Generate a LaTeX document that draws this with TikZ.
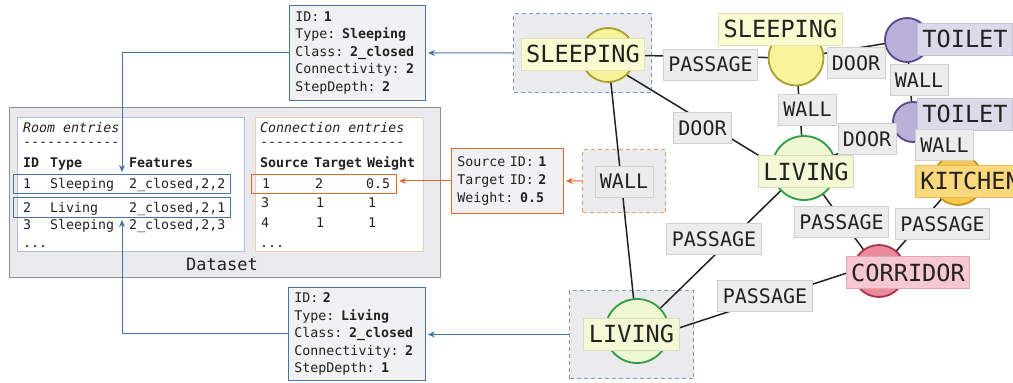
\documentclass[tikz,border=0pt]{standalone}
\usepackage{fontspec}
\setmonofont{DejaVu Sans Mono}
\usetikzlibrary{arrows.meta,calc}
\pgfdeclarelayer{bglayer}
\pgfdeclarelayer{edgelayer}
\pgfsetlayers{bglayer,edgelayer,main}
\definecolor{ink}{HTML}{222222}
\definecolor{linkblue}{HTML}{4575A8}
\definecolor{orangeL}{HTML}{E0692A}
\definecolor{infofill}{HTML}{F1F1F3}
\definecolor{dsfill}{HTML}{E9E9EE}
\definecolor{dsdraw}{HTML}{8E8E96}
\definecolor{roomdraw}{HTML}{A9C1DD}
\definecolor{conndraw}{HTML}{F2CDB0}
\definecolor{gfill}{HTML}{EBEBEE}
\definecolor{gSdraw}{HTML}{7F97B8}
\definecolor{gWdraw}{HTML}{E39A6C}
\definecolor{edgefill}{HTML}{ECECEC}
\definecolor{edgedraw}{HTML}{D0D0D0}
\definecolor{slL}{HTML}{FBFBD2}\definecolor{slLd}{HTML}{E2E2B6}
\definecolor{slC}{HTML}{F7F39B}\definecolor{slCd}{HTML}{A8A030}
\definecolor{lvL}{HTML}{F4F8D4}\definecolor{lvLd}{HTML}{D8DCBC}
\definecolor{lvC}{HTML}{EEF7D2}\definecolor{lvCd}{HTML}{2F9D45}
\definecolor{toL}{HTML}{DCD9E9}\definecolor{toLd}{HTML}{C4C0D6}
\definecolor{toC}{HTML}{B9B1D8}\definecolor{toCd}{HTML}{5E4392}
\definecolor{kiL}{HTML}{FCD87C}\definecolor{kiLd}{HTML}{E6BC5A}
\definecolor{kiC}{HTML}{F6C94C}\definecolor{kiCd}{HTML}{C9961C}
\definecolor{coL}{HTML}{F7C8D0}\definecolor{coLd}{HTML}{E2A7B3}
\definecolor{coC}{HTML}{E98B9B}\definecolor{coCd}{HTML}{A9304E}
\newcommand\tabfnt{\ttfamily\fontsize{13.3}{17.5}\selectfont}
\newcommand\roomfnt{\ttfamily\fontsize{23.6}{26}\selectfont}
\newcommand\edgefnt{\ttfamily\fontsize{20}{22}\selectfont}
\begin{document}
\begin{tikzpicture}[x=1pt,y=-1pt,
  rect/.style={rectangle, inner sep=0pt, anchor=north west},
  txt/.style={anchor=base west, inner sep=0pt, font=\tabfnt, text=ink},
  infobox/.style={rect, draw=linkblue, fill=infofill, line width=0.9pt, align=left, inner xsep=6pt, font=\tabfnt, text=ink},
  roomlbl/.style={rectangle, inner xsep=5pt, inner ysep=0pt, minimum height=32pt, font=\roomfnt, text=ink, line width=0.8pt},
  edgelbl/.style={rectangle, fill=edgefill, draw=edgedraw, inner xsep=5pt, inner ysep=0pt, minimum height=31pt, font=\edgefnt, text=ink, line width=0.8pt},
  roomc/.style={circle, inner sep=0pt, line width=1.8pt},
  conn/.style={draw=ink, line width=1.5pt},
  link/.style={draw=linkblue, line width=1pt, -{Stealth[length=7pt,width=6pt]}, shorten >=2pt},
  olink/.style={draw=orangeL, line width=1pt, -{Stealth[length=7pt,width=6pt]}, shorten >=2pt},
  grp/.style={rect, fill=gfill, line width=1pt, dash pattern=on 4pt off 3pt}
]
\useasboundingbox (0,0) rectangle (1013,383);
\begin{pgfonlayer}{bglayer}
\fill[white] (0,0) rectangle (1013,383);
\end{pgfonlayer}

% ---------------- Dataset panel
\node[rect, draw=dsdraw, fill=dsfill, line width=1pt, minimum width=431pt, minimum height=170pt] (ds) at (9,107) {};
\node[rect, draw=roomdraw, fill=white, line width=1pt, minimum width=227pt, minimum height=134pt] (rb) at (17,117) {};
\node[rect, draw=conndraw, fill=white, line width=1pt, minimum width=168pt, minimum height=134pt] (cb) at (255,117) {};
\node[anchor=base, inner sep=0pt, font=\ttfamily\fontsize{17}{20}\selectfont, text=ink] (dsl) at (222,270) {Dataset};

% room entries
\node[txt] (rt0) at (23,132) {\itshape Room entries};
\node[txt] (rt1) at (23,146) {-{}-{}-{}-{}-{}-{}-{}-{}-{}-{}-{}-};
\node[txt] (rh1) at (23,167) {\bfseries ID};
\node[txt] (rh2) at (50,167) {\bfseries Type};
\node[txt] (rh3) at (129,167) {\bfseries Features};
\node[txt] (ra1) at (23,188) {1};
\node[txt] (ra2) at (50,188) {Sleeping};
\node[txt] (ra3) at (129,188) {2\_closed,2,2};
\node[txt] (rb1) at (23,212) {2};
\node[txt] (rb2) at (50,212) {Living};
\node[txt] (rb3) at (129,212) {2\_closed,2,1};
\node[txt] (rc1) at (23,229) {3};
\node[txt] (rc2) at (50,229) {Sleeping};
\node[txt] (rc3) at (129,229) {2\_closed,2,3};
\node[txt] (rd1) at (23,247) {...};
\node[rect, draw=linkblue, line width=1pt, minimum width=217pt, minimum height=19pt] (rS) at (13,174) {};
\node[rect, draw=linkblue, line width=1pt, minimum width=217pt, minimum height=20pt] (rL) at (13,197) {};

% connection entries
\node[txt] (ct0) at (260,132) {\itshape Connection entries};
\node[txt] (ct1) at (260,146) {-{}-{}-{}-{}-{}-{}-{}-{}-{}-{}-{}-{}-{}-{}-{}-{}-{}-};
\node[txt] (ch1) at (260,167) {\bfseries Source};
\node[txt] (ch2) at (314,167) {\bfseries Target};
\node[txt] (ch3) at (367,167) {\bfseries Weight};
\node[txt] (ca1) at (262,188) {1};
\node[txt] (ca2) at (315,188) {2};
\node[txt] (ca3) at (366,188) {0.5};
\node[txt] (cb1) at (261,207) {3};
\node[txt] (cb2) at (316,207) {1};
\node[txt] (cb3) at (368,207) {1};
\node[txt] (cc1) at (261,227) {4};
\node[txt] (cc2) at (316,227) {1};
\node[txt] (cc3) at (368,227) {1};
\node[txt] (cd1) at (260,247) {...};
\node[rect, draw=orangeL, line width=1pt, minimum width=145pt, minimum height=19pt] (rW) at (251,174) {};

% ---------------- info boxes
\node[infobox, text width=124pt, minimum height=95pt] (iS) at (289,5)
  {ID: \textbf{1}\\Type: \textbf{Sleeping}\\Class: \textbf{2\_closed}\\Connectivity: \textbf{2}\\StepDepth: \textbf{2}};
\node[infobox, text width=125pt, minimum height=93pt] (iL) at (288,287)
  {ID: \textbf{2}\\Type: \textbf{Living}\\Class: \textbf{2\_closed}\\Connectivity: \textbf{2}\\StepDepth: \textbf{1}};
\node[infobox, draw=orangeL, text width=100pt, minimum height=65pt, font=\ttfamily\fontsize{13.3}{18}\selectfont] (iW) at (451,148)
  {Source ID: \textbf{1}\\Target ID: \textbf{2}\\Weight: \textbf{0.5}};

% ---------------- group boxes
\begin{pgfonlayer}{bglayer}
\node[grp, draw=gSdraw, minimum width=138pt, minimum height=79pt] (gS) at (513,13) {};
\node[grp, draw=gSdraw, minimum width=124pt, minimum height=88pt] (gL) at (569,290) {};
\node[grp, draw=gWdraw, minimum width=83pt, minimum height=63pt] (gW) at (582,149) {};
\end{pgfonlayer}

% ---------------- room circles
\node[roomc, minimum size=54pt, fill=slC, draw=slCd] (cS1) at (608,55) {};
\node[roomc, minimum size=55pt, fill=slC, draw=slCd] (cS2) at (796,58) {};
\node[roomc, minimum size=64pt, fill=lvC, draw=lvCd] (cL1) at (637,331) {};
\node[roomc, minimum size=64pt, fill=lvC, draw=lvCd] (cL2) at (804,168) {};
\node[roomc, minimum size=44pt, fill=toC, draw=toCd] (cT1) at (907,40) {};
\node[roomc, minimum size=40pt, fill=toC, draw=toCd] (cT2) at (913,122) {};
\node[roomc, minimum size=50pt, fill=kiC, draw=kiCd] (cK) at (958,180) {};
\node[roomc, minimum size=52pt, fill=coC, draw=coCd] (cC) at (879,271) {};

% ---------------- room labels
\node[roomlbl, fill=slL, draw=slLd] (lS1) at (583,54) {SLEEPING};
\node[roomlbl, fill=slL, draw=slLd] (lS2) at (780.5,29) {SLEEPING};
\node[roomlbl, fill=lvL, draw=lvLd] (lL1) at (631.5,334) {LIVING};
\node[roomlbl, fill=lvL, draw=lvLd] (lL2) at (806,171.5) {LIVING};
\node[roomlbl, fill=toL, draw=toLd, anchor=west] (lT1) at (917,39) {TOILET};
\node[roomlbl, fill=toL, draw=toLd, anchor=west] (lT2) at (917,114) {TOILET};
\node[roomlbl, fill=kiL, draw=kiLd, anchor=west] (lK) at (915,181) {KITCHEN};
\node[roomlbl, fill=coL, draw=coLd] (lC) at (908,272.5) {CORRIDOR};

% ---------------- edge labels
\node[edgelbl] (e1) at (710.5,64.5) {PASSAGE};
\node[edgelbl] (e2) at (702.5,128) {DOOR};
\node[edgelbl] (e3) at (624,181.5) {WALL};
\node[edgelbl] (e4) at (856,63) {DOOR};
\node[edgelbl] (e5) at (807.5,109.5) {WALL};
\node[edgelbl] (e6) at (919,80) {WALL};
\node[edgelbl] (e7) at (867,139) {DOOR};
\node[edgelbl] (e8) at (944.5,145) {WALL};
\node[edgelbl] (e9) at (841.5,222) {PASSAGE};
\node[edgelbl] (e10) at (942.5,224) {PASSAGE};
\node[edgelbl] (e11) at (714,239) {PASSAGE};
\node[edgelbl] (e12) at (765,296) {PASSAGE};

% ---------------- connectors (behind circles and labels)
\begin{pgfonlayer}{edgelayer}
\draw[conn] (cS1.center) -- (cS2.center);
\draw[conn] ([yshift=-8.6pt]cS1.center) -- ([yshift=-15pt]cL2.center);
\draw[conn] (cS1.center) -- (cL1.center);
\draw[conn] (cS2.center) -- (cT1.center);
\draw[conn] (cS2.center) -- (cL2.center);
\draw[conn] (cT1.center) -- (cT2.center);
\draw[conn] (cT2.center) -- (cL2.center);
\draw[conn] (cT2.center) -- (cK.center);
\draw[conn] (cL2.center) -- (cC.center);
\draw[conn] (cK.center) -- (cC.center);
\draw[conn] (cL2.center) -- (cL1.center);
\draw[conn] ([yshift=-10.7pt]cL1.center) -- ([yshift=8.5pt]cC.center);
\end{pgfonlayer}

% ---------------- links
\draw[link] (gS.west) -- (iS.east);
\draw[link] (iS.west) -| (rS.north);
\draw[link] (gL.west) -- (gL.west -| iL.east);
\draw[link] (iL.west) -| (rL.south);
\draw[olink] (gW.west) -- (iW.east);
\draw[olink] (iW.west) -- (iW.west -| rW.east);
\end{tikzpicture}
\end{document}
